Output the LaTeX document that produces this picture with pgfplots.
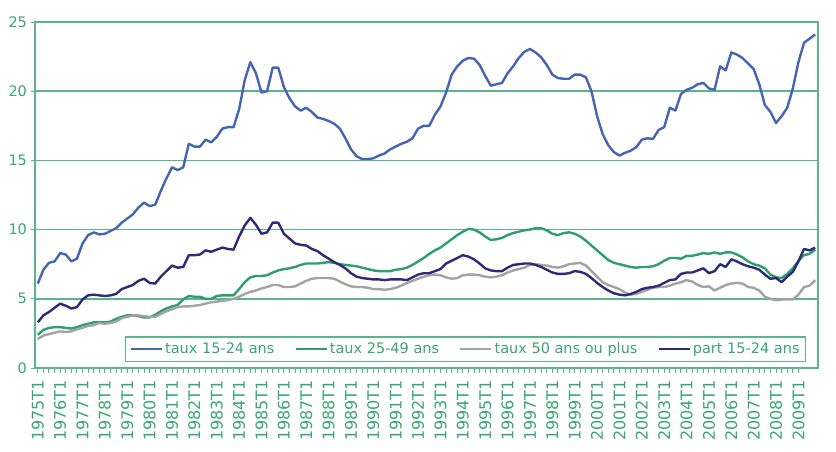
\documentclass[border=0pt]{standalone}
\usepackage{pgfplots}
\pgfplotsset{compat=1.18}
\usepackage{pgfplotstable}
\usepackage{fontspec}
\setmainfont{DejaVu Sans}
\definecolor{cgrid}{HTML}{5AB58C}
\definecolor{cgreen}{HTML}{2E9E6E}
\definecolor{ctext}{HTML}{3AA577}
\definecolor{cblue}{HTML}{4565B2}
\definecolor{cnavy}{HTML}{2D2B78}
\definecolor{cgray}{HTML}{A3A3A3}
\pgfplotstableread{
i a b c d
0 6.1 2.4 2.1 3.3
1 7.1 2.75 2.35 3.8
2 7.6 2.9 2.45 4.05
3 7.7 2.95 2.55 4.35
4 8.3 2.95 2.65 4.65
5 8.2 2.9 2.6 4.5
6 7.7 2.85 2.65 4.3
7 7.9 2.95 2.8 4.4
8 9.0 3.1 2.9 4.95
9 9.6 3.2 3.05 5.25
10 9.8 3.3 3.1 5.3
11 9.65 3.3 3.25 5.25
12 9.7 3.3 3.2 5.2
13 9.9 3.35 3.25 5.25
14 10.1 3.55 3.35 5.35
15 10.5 3.7 3.6 5.7
16 10.8 3.8 3.7 5.85
17 11.1 3.8 3.8 6.0
18 11.6 3.75 3.8 6.3
19 11.95 3.65 3.75 6.45
20 11.7 3.65 3.7 6.15
21 11.8 3.85 3.7 6.1
22 12.8 4.1 3.9 6.6
23 13.7 4.3 4.1 7.0
24 14.5 4.45 4.25 7.4
25 14.3 4.55 4.4 7.25
26 14.5 4.95 4.45 7.3
27 16.2 5.2 4.45 8.15
28 16.0 5.15 4.5 8.15
29 16.0 5.15 4.55 8.2
30 16.5 5.0 4.65 8.5
31 16.3 5.0 4.75 8.4
32 16.7 5.2 4.8 8.55
33 17.3 5.25 4.85 8.7
34 17.4 5.25 4.9 8.6
35 17.4 5.25 5.0 8.55
36 18.7 5.7 5.15 9.5
37 20.8 6.2 5.35 10.3
38 22.1 6.55 5.5 10.85
39 21.3 6.65 5.6 10.35
40 19.9 6.65 5.75 9.7
41 20.0 6.7 5.85 9.8
42 21.7 6.9 6.0 10.5
43 21.7 7.05 6.0 10.5
44 20.3 7.15 5.85 9.7
45 19.5 7.2 5.85 9.35
46 18.9 7.3 5.9 9.0
47 18.6 7.45 6.1 8.9
48 18.8 7.55 6.3 8.85
49 18.5 7.55 6.45 8.6
50 18.1 7.55 6.5 8.45
51 18.0 7.6 6.5 8.15
52 17.85 7.65 6.5 7.9
53 17.65 7.6 6.45 7.65
54 17.3 7.5 6.25 7.45
55 16.6 7.45 6.05 7.2
56 15.8 7.4 5.9 6.85
57 15.3 7.35 5.85 6.6
58 15.1 7.25 5.85 6.5
59 15.1 7.15 5.8 6.45
60 15.15 7.05 5.7 6.4
61 15.35 7.0 5.7 6.4
62 15.5 7.0 5.65 6.35
63 15.8 7.0 5.7 6.4
64 16.0 7.1 5.8 6.4
65 16.2 7.15 5.95 6.4
66 16.35 7.25 6.15 6.35
67 16.6 7.45 6.3 6.55
68 17.3 7.7 6.45 6.75
69 17.5 7.95 6.6 6.85
70 17.5 8.25 6.7 6.85
71 18.3 8.5 6.75 7.0
72 18.9 8.7 6.7 7.15
73 19.9 9.0 6.55 7.55
74 21.2 9.3 6.45 7.75
75 21.8 9.6 6.5 7.95
76 22.2 9.85 6.7 8.15
77 22.4 10.05 6.75 8.05
78 22.35 10.0 6.75 7.85
79 21.9 9.8 6.7 7.55
80 21.1 9.5 6.6 7.2
81 20.4 9.25 6.55 7.05
82 20.5 9.3 6.6 7.0
83 20.6 9.4 6.7 7.0
84 21.3 9.6 6.9 7.25
85 21.8 9.75 7.05 7.45
86 22.4 9.85 7.15 7.5
87 22.85 9.95 7.25 7.55
88 23.05 10.0 7.45 7.55
89 22.8 10.1 7.5 7.45
90 22.45 10.1 7.45 7.3
91 21.9 9.95 7.4 7.1
92 21.2 9.7 7.3 6.9
93 20.95 9.6 7.25 6.8
94 20.9 9.75 7.35 6.8
95 20.9 9.8 7.5 6.85
96 21.2 9.7 7.55 7.0
97 21.2 9.5 7.6 6.95
98 21.0 9.2 7.4 6.8
99 20.0 8.85 7.0 6.5
100 18.2 8.5 6.6 6.15
101 16.9 8.15 6.2 5.85
102 16.1 7.8 6.0 5.6
103 15.6 7.6 5.85 5.4
104 15.35 7.5 5.7 5.3
105 15.55 7.4 5.45 5.25
106 15.7 7.3 5.3 5.35
107 15.95 7.25 5.35 5.5
108 16.5 7.3 5.5 5.7
109 16.6 7.3 5.65 5.8
110 16.55 7.35 5.8 5.85
111 17.2 7.5 5.85 5.95
112 17.4 7.75 5.85 6.15
113 18.8 7.95 5.95 6.35
114 18.6 7.95 6.1 6.4
115 19.8 7.9 6.2 6.8
116 20.1 8.1 6.35 6.9
117 20.25 8.1 6.25 6.9
118 20.5 8.2 6.0 7.05
119 20.6 8.3 5.85 7.2
120 20.2 8.25 5.9 6.85
121 20.1 8.35 5.6 7.0
122 21.8 8.25 5.8 7.5
123 21.5 8.35 6.0 7.3
124 22.8 8.35 6.1 7.85
125 22.65 8.2 6.15 7.7
126 22.4 8.0 6.1 7.5
127 22.0 7.7 5.85 7.35
128 21.6 7.5 5.8 7.25
129 20.5 7.4 5.6 7.1
130 19.0 7.2 5.15 6.75
131 18.5 6.75 5.0 6.45
132 17.7 6.55 4.9 6.5
133 18.2 6.5 4.95 6.2
134 18.8 6.8 4.95 6.6
135 20.2 7.2 4.95 6.95
136 22.1 7.75 5.3 7.7
137 23.5 8.15 5.85 8.6
138 23.8 8.25 5.95 8.5
139 24.1 8.55 6.35 8.7
}\data
\begin{document}
\begin{tikzpicture}
\useasboundingbox (-35pt,-83pt) rectangle (801pt,368pt);
\begin{axis}[
  width=783pt, height=346pt, scale only axis,
  xmin=-0.5, xmax=139.5, ymin=0, ymax=25,
  /pgf/number format/assume math mode=true,
  ytick={0,5,...,25},
  ymajorgrids, grid style={cgrid, line width=1.6pt},
  axis line style={cgrid, line width=1.6pt},
  tick align=outside, major tick length=4.5pt, minor tick length=4.5pt,
  xtick pos=bottom, ytick pos=left,
  tick style={draw=cgrid, line width=1pt},
  xtick={0,4,...,136},
  minor x tick num=3,
  xticklabels={1975T1,1976T1,1977T1,1978T1,1979T1,1980T1,1981T1,1982T1,1983T1,1984T1,1985T1,1986T1,1987T1,1988T1,1989T1,1990T1,1991T1,1992T1,1993T1,1994T1,1995T1,1996T1,1997T1,1998T1,1999T1,2000T1,2001T1,2002T1,2003T1,2004T1,2005T1,2006T1,2007T1,2008T1,2009T1},
  xticklabel shift=4pt,
  xticklabel style={rotate=90, anchor=east, text=ctext, font=\fontsize{16}{16}\selectfont},
  yticklabel style={text=ctext, font=\fontsize{14.5}{15}\selectfont},
  legend columns=4,
  legend style={at={(0.985,0.017)}, anchor=south east, draw=cgrid, line width=1.3pt,
    text=ctext, font=\fontsize{14.5}{15}\selectfont, inner sep=4pt,
    /tikz/every even column/.append style={column sep=18pt}},
  legend image code/.code={\draw[#1] (0pt,0pt) -- (31pt,0pt);},
  every axis plot/.append style={line width=2.4pt, line join=round, no markers},
]
\addplot[cblue] table[x=i, y=a] {\data};
\addlegendentry{taux 15-24 ans}
\addplot[cgreen] table[x=i, y=b] {\data};
\addlegendentry{taux 25-49 ans}
\addplot[cgray] table[x=i, y=c] {\data};
\addlegendentry{taux 50 ans ou plus}
\addplot[cnavy] table[x=i, y=d] {\data};
\addlegendentry{part 15-24 ans}
\end{axis}
\end{tikzpicture}
\end{document}
